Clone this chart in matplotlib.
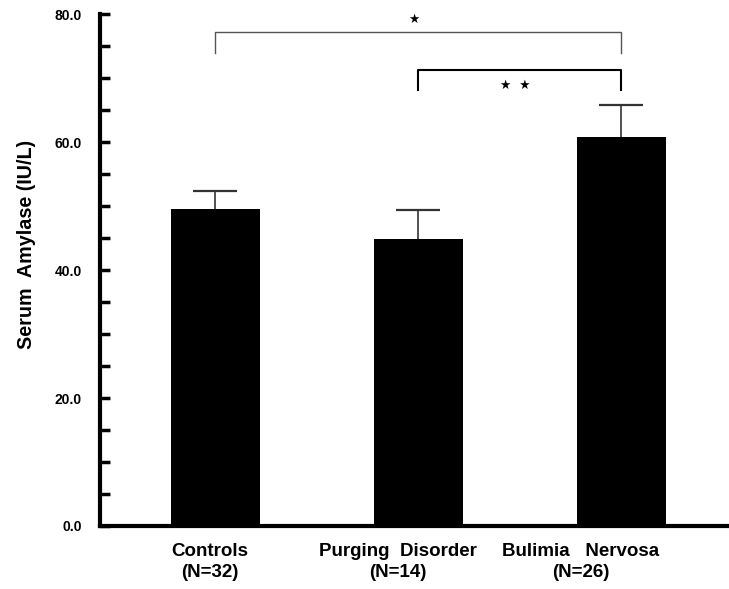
import matplotlib
matplotlib.use("Agg")
import matplotlib.pyplot as plt
from matplotlib.ticker import MultipleLocator, FormatStrFormatter

plt.rcParams['font.family'] = ['Liberation Sans', 'DejaVu Sans']

groups = ["Controls\n(N=32)", "Purging  Disorder\n(N=14)", "Bulimia   Nervosa\n(N=26)"]
means = [49.5, 44.9, 60.8]
sem = [2.8, 4.5, 5.0]
# significance brackets: (left bar, right bar, top y, leg bottom y, label)
brackets = [(0, 2, 77.2, 74.0, "\u2605"), (1, 2, 71.2, 68.1, "\u2605  \u2605")]

fig = plt.figure(figsize=(7.29, 5.89), dpi=100)
ax = fig.add_axes([0.137, 0.107, 0.863, 0.869])
x = list(range(len(means)))
# symmetric bars drawn under the columns so only the upper half shows
ax.errorbar(x, means, yerr=sem, fmt="none", ecolor="#333333",
            elinewidth=1.2, capsize=16, capthick=1.6, zorder=1)
ax.bar(x, means, width=0.44, color="black", zorder=2)

for i, j, top, low, lab in brackets:
    single = len(lab) == 1
    lw, col = (1.0, "#555555") if single else (1.5, "black")
    ax.plot([i, i, j, j], [low, top, top, low], color=col, lw=lw)
    ax.text((i + j) / 2 - 0.025, top + (1.9 if single else -2.3), lab,
            ha="center", va="center", fontsize=9, family="DejaVu Sans")

ax.set_xlim(-0.569, 2.53)
ax.set_ylim(0, 80)
ax.spines["top"].set_visible(False)
ax.spines["right"].set_visible(False)
ax.spines["left"].set_linewidth(3)
ax.spines["bottom"].set_linewidth(3)
ax.yaxis.set_major_locator(MultipleLocator(20))
ax.yaxis.set_minor_locator(MultipleLocator(5))
ax.yaxis.set_major_formatter(FormatStrFormatter("%.1f"))
ax.tick_params(axis="y", which="both", direction="in", length=7, width=2.5, pad=13, labelsize=10)
for t in ax.get_yticklabels():
    t.set_fontweight("bold")
ax.set_xticks([-0.027, 0.9, 1.8])
ax.set_xticklabels(groups, fontsize=13.5, fontweight="bold", linespacing=1.3)
ax.tick_params(axis="x", length=0, pad=12)
ax.set_ylabel("Serum  Amylase (IU/L)", fontsize=14.2, fontweight="bold")
ax.yaxis.set_label_coords(-0.102, 0.55)

fig.savefig("out.png", dpi=100)
